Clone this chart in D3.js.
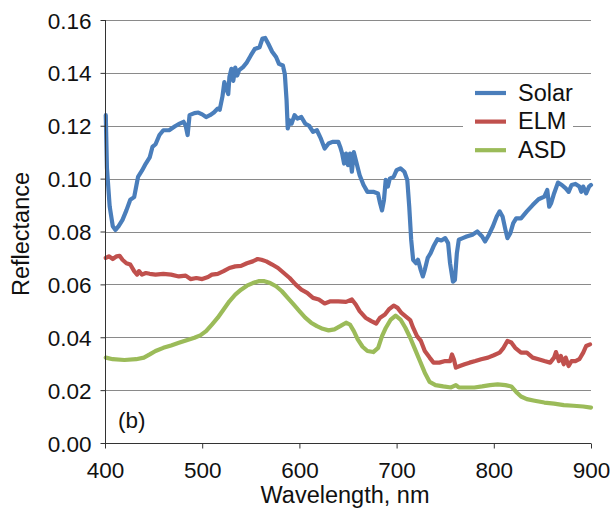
<!DOCTYPE html>
<html>
<head>
<meta charset="utf-8">
<script src="https://cdn.jsdelivr.net/npm/d3@7"></script>
<style>
  html, body { margin: 0; padding: 0; background: #fff; }
  svg { display: block; }
  text { font-family: "Liberation Sans", Arial, sans-serif; fill: #111; }
</style>
</head>
<body>
<svg id="chart" width="610" height="512"></svg>
<script>
// ---- data ----
const xTicks = [400, 500, 600, 700, 800, 900];
const yTicks = [0.00, 0.02, 0.04, 0.06, 0.08, 0.10, 0.12, 0.14, 0.16];
const seriesNames = ["Solar", "ELM", "ASD"];
const seriesColors = ["#4A7EBB", "#C0504D", "#9BBB59"];

const solarWl = [400.8,402,404.8,408,410.8,414,418,422,426,430,434,438,442,446,448.8,452,456,460,466,472,476.8,480.8,483,485,487,492,496,500,504,508,512,516,518,520.8,522.8,524.8,526.8,528,530,532,534,536,538,542,546,550,554,559,562,564.8,568,572,576,579,583,585,586.8,588,590,592,595,598,602,606,610,614,618,622,626,630,634,640,642,644,646,648,650,652,654,656,658,662,666,670,676,680.8,683,685,687,688.8,691,693,697,700,704,708,711,713,715,717,720,722,724.8,727,729,732,735,738,742,746,750,753,755,758,760,762,764,768,772,778,783,788,791,795,799,803,806,809,812,814,817,820,823,828,834,840,846,852,855,857,859,862,866,870,874,877,880,884,888,890,892,895,898,900];
const solarVal = [0.124,0.104,0.0895,0.082,0.0806,0.082,0.0844,0.088,0.092,0.093,0.1007,0.103,0.1057,0.108,0.112,0.113,0.1165,0.1183,0.1183,0.1198,0.1208,0.1215,0.12,0.1165,0.124,0.1248,0.125,0.1243,0.1233,0.124,0.125,0.1265,0.126,0.131,0.1365,0.134,0.132,0.1384,0.1415,0.137,0.142,0.139,0.141,0.1422,0.144,0.1466,0.149,0.1497,0.153,0.1532,0.151,0.148,0.146,0.1434,0.1428,0.1396,0.1296,0.119,0.122,0.1208,0.124,0.1227,0.1233,0.1208,0.12,0.1177,0.1183,0.1152,0.1114,0.1133,0.1139,0.1139,0.112,0.1095,0.1057,0.1095,0.1051,0.1095,0.1026,0.110,0.107,0.1013,0.0976,0.095,0.095,0.0944,0.0907,0.088,0.0919,0.0995,0.097,0.100,0.1007,0.1032,0.1039,0.1026,0.0995,0.0894,0.0769,0.0693,0.068,0.0693,0.0655,0.063,0.0655,0.070,0.0718,0.0744,0.0771,0.0766,0.0775,0.0756,0.068,0.061,0.0617,0.0718,0.0769,0.0775,0.0781,0.0788,0.080,0.0781,0.0762,0.0788,0.0819,0.0857,0.0876,0.0857,0.0806,0.0775,0.0794,0.0832,0.085,0.085,0.0876,0.090,0.0922,0.0932,0.0957,0.0894,0.0907,0.0944,0.0985,0.0976,0.0963,0.095,0.0976,0.098,0.097,0.095,0.097,0.0944,0.097,0.0976];

const elmWl = [400.8,404,408,412,415,418,422,426,430,433,435,438,442,446,452,460,468,476,483,488,494,500,506,510,516,522,528,534,540,546,552,557,561,566,572,578,584,590,596,602,608,614,620,626,632,640,648,654,658,662,668,674,679,683,688,692,697,701,705,709,714,717,721,725,729,734,738,744,750,755,757,759,761,765,770,775,781,787,794,800,806,810,814,818,822,828,834,840,846,852,858,862,864,867,869,872,874,877,880,884,888,892,895,899];
const elmVal = [0.070,0.0706,0.0696,0.0706,0.0708,0.0693,0.068,0.0675,0.065,0.0637,0.065,0.0637,0.0643,0.064,0.0637,0.064,0.0637,0.063,0.0633,0.062,0.0624,0.062,0.0628,0.0637,0.064,0.065,0.0662,0.0668,0.067,0.068,0.0687,0.0696,0.0693,0.0687,0.0675,0.0662,0.0643,0.0624,0.060,0.058,0.0568,0.0549,0.0543,0.0528,0.0536,0.0536,0.0534,0.0543,0.0524,0.0499,0.0474,0.0461,0.0452,0.0474,0.0486,0.0505,0.052,0.0511,0.0492,0.048,0.0465,0.0436,0.0404,0.0386,0.0348,0.0323,0.0304,0.0304,0.031,0.031,0.0335,0.0316,0.0285,0.0291,0.0298,0.0304,0.031,0.0317,0.0323,0.0332,0.0342,0.036,0.0386,0.038,0.036,0.0342,0.0342,0.0323,0.0317,0.031,0.0304,0.0323,0.0344,0.031,0.0329,0.0298,0.0323,0.0291,0.031,0.031,0.0317,0.0342,0.0367,0.0373];

const asdWl = [400.8,408,420,432,440,446,452,460,468,476,484,492,498,504,510,516,522,528,534,540,546,552,558,564,570,576,582,588,594,600,606,612,618,624,630,636,642,648,652,656,660,665,670,676,681,685,689,694,699,704,709,714,719,724,729,734,740,748,756,761,764,772,780,788,796,804,812,818,823,828,834,842,852,862,872,882,892,900];
const asdVal = [0.0323,0.0317,0.0314,0.0317,0.0323,0.0335,0.0348,0.036,0.0369,0.0379,0.0389,0.0398,0.0407,0.0423,0.0448,0.0474,0.0505,0.0536,0.0561,0.058,0.0595,0.0605,0.0612,0.0612,0.0605,0.0593,0.0574,0.0549,0.0524,0.0499,0.0474,0.0455,0.0442,0.0432,0.0426,0.043,0.0442,0.0455,0.0448,0.0423,0.0392,0.0364,0.0348,0.0344,0.036,0.0404,0.0436,0.0467,0.0482,0.0467,0.0436,0.0398,0.0354,0.031,0.0266,0.0231,0.0219,0.0214,0.021,0.0219,0.021,0.021,0.021,0.0214,0.0219,0.0222,0.0219,0.0214,0.0193,0.0176,0.0166,0.016,0.0153,0.0149,0.0143,0.0141,0.0138,0.0134];

// ---- chart ----
const svg = d3.select("#chart");
const mLeft = 105, mRight = 591, mTop = 20, mBottom = 443;
const x = d3.scaleLinear().domain([400, 900]).range([mLeft, mRight]);
const y = d3.scaleLinear().domain([0, 0.16]).range([mBottom, mTop]);

// gridlines
svg.append("g").selectAll("line").data(yTicks.filter(d => d > 0)).join("line")
  .attr("x1", mLeft).attr("x2", mRight)
  .attr("y1", d => Math.round(y(d)) + 0.5).attr("y2", d => Math.round(y(d)) + 0.5)
  .attr("stroke", "#8a8a8a").attr("stroke-width", 1);

// series
const series = [
  {name: seriesNames[0], wl: solarWl, val: solarVal, color: seriesColors[0]},
  {name: seriesNames[1], wl: elmWl, val: elmVal, color: seriesColors[1]},
  {name: seriesNames[2], wl: asdWl, val: asdVal, color: seriesColors[2]}
];
const line = d3.line().x(d => x(d[0])).y(d => y(d[1]));
svg.append("g").selectAll("path").data(series.slice().reverse()).join("path")
  .attr("d", s => line(s.wl.map((w, i) => [w, s.val[i]])))
  .attr("fill", "none").attr("stroke", s => s.color)
  .attr("stroke-width", 4.2).attr("stroke-linejoin", "round").attr("stroke-linecap", "round");

// axes
const FS = 22.5;
const yAxis = d3.axisLeft(y).tickValues(yTicks).tickFormat(d3.format(".2f")).tickSize(5).tickPadding(9);
const gy = svg.append("g").attr("transform", `translate(${mLeft + 0.5},0)`).call(yAxis);
gy.select(".domain").attr("stroke", "#333").attr("d", `M0,${y(0.16)}V${mBottom}`);
gy.selectAll(".tick line").attr("stroke", "#333");
gy.selectAll(".tick text").attr("font-size", FS).attr("fill", "#111").attr("dy", "0.36em")
  .attr("font-family", "Liberation Sans, Arial, sans-serif");

const xAxis = d3.axisBottom(x).tickValues(xTicks).tickFormat(d3.format("d")).tickSize(5).tickPadding(14);
const gx = svg.append("g").attr("transform", `translate(0,${mBottom + 0.5})`).call(xAxis);
gx.select(".domain").attr("stroke", "#333").attr("d", `M${mLeft},0H${mRight}`);
gx.selectAll(".tick line").attr("stroke", "#333");
gx.selectAll(".tick text").attr("font-size", FS).attr("fill", "#111")
  .attr("font-family", "Liberation Sans, Arial, sans-serif");

// axis titles
svg.append("text").attr("x", 345).attr("y", 503)
  .attr("text-anchor", "middle").attr("font-size", 23.5).text("Wavelength, nm");
svg.append("text").attr("transform", `translate(29,234) rotate(-90)`)
  .attr("text-anchor", "middle").attr("font-size", 23.5).text("Reflectance");

// panel label
svg.append("text").attr("x", 118).attr("y", 428).attr("font-size", FS).text("(b)");

// legend
const lg = svg.append("g");
lg.append("rect").attr("x", 463).attr("y", 76).attr("width", 110).attr("height", 88).attr("fill", "#fff");
series.forEach((s, i) => {
  const ly = 93 + i * 28.6;
  lg.append("line").attr("x1", 475).attr("x2", 506).attr("y1", ly).attr("y2", ly)
    .attr("stroke", s.color).attr("stroke-width", 4.2);
  lg.append("text").attr("x", 518).attr("y", ly + 7.8).attr("font-size", 23.5).text(s.name);
});
</script>
</body>
</html>
